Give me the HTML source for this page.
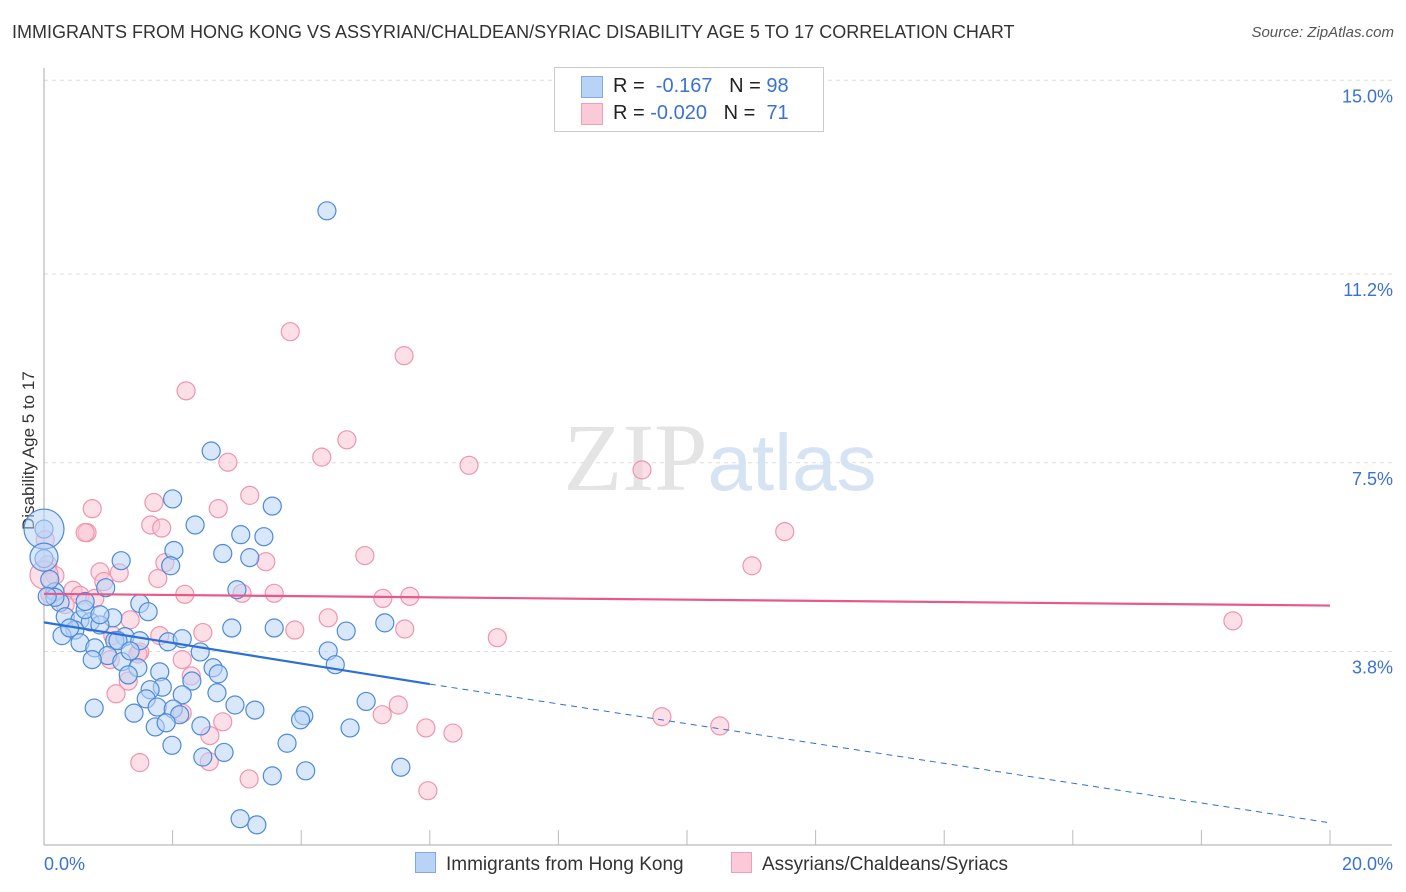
<!DOCTYPE html>
<html><head><meta charset="utf-8"><style>
body{margin:0;background:#fff;font-family:"Liberation Sans",sans-serif;}
#wrap{position:relative;width:1406px;height:892px;overflow:hidden;}
.t{position:absolute;white-space:nowrap;}
</style></head><body>
<div id="wrap">
<div class="t" style="left:12px;top:22px;font-size:18px;color:#333;">IMMIGRANTS FROM HONG KONG VS ASSYRIAN/CHALDEAN/SYRIAC DISABILITY AGE 5 TO 17 CORRELATION CHART</div>
<div class="t" style="right:12px;top:24px;font-size:15px;color:#555;font-style:italic;">Source: ZipAtlas.com</div>
<div class="t" style="left:-46px;top:445px;font-size:17px;color:#333;transform:rotate(-90deg);transform-origin:center;width:150px;text-align:center;">Disability Age 5 to 17</div>
<svg id="svg" width="1406" height="892" style="position:absolute;left:0;top:0"></svg>
<div style="position:absolute;left:554px;top:67px;width:268px;height:63px;border:1px solid #ccc;background:#fff;font-size:20px;">
 <div style="position:absolute;left:26px;top:8px;width:20px;height:20px;background:#b8d3f5;border:1px solid #7fa9e0;"></div>
 <div class="t" style="left:58px;top:7px;color:#222;">R = &nbsp;<span style="color:#3a72d4">-0.167</span>&nbsp;&nbsp; N = <span style="color:#3a72d4">98</span></div>
 <div style="position:absolute;left:26px;top:35px;width:20px;height:20px;background:#fcc9d8;border:1px solid #eea0b8;"></div>
 <div class="t" style="left:58px;top:34px;color:#222;">R = <span style="color:#3a72d4">-0.020</span>&nbsp;&nbsp; N = &nbsp;<span style="color:#3a72d4">71</span></div>
</div>
<div style="position:absolute;left:415px;top:852px;font-size:19px;color:#333;">
 <span style="position:absolute;left:0;top:0;white-space:nowrap;"><span style="display:inline-block;width:19px;height:19px;background:#b8d3f5;border:1px solid #7fa9e0;vertical-align:-3px;margin-right:10px"></span>Immigrants from Hong Kong</span>
 <span style="position:absolute;left:316px;top:0;white-space:nowrap;"><span style="display:inline-block;width:19px;height:19px;background:#fcc9d8;border:1px solid #eea0b8;vertical-align:-3px;margin-right:10px"></span>Assyrians/Chaldeans/Syriacs</span>
</div>
</div>
<script>
const yTicks=[3.8,7.5,11.2,15.0];
const yTickLabels=["3.8%","7.5%","11.2%","15.0%"];
const xTickLabels=["0.0%","20.0%"];
const blueX=[4.4,2.6,2.0,3.55,2.35,3.06,3.42,2.02,2.78,3.2,1.2,1.97,0.96,3.0,0.17,0.25,1.49,1.62,1.07,0.33,0.56,0.72,0.87,0.48,2.92,3.58,4.7,5.3,1.26,1.93,2.15,1.1,1.49,0.56,0.79,2.43,4.42,0.99,0.75,1.21,4.53,2.63,1.80,1.46,2.71,2.3,1.84,1.65,1.31,2.15,2.69,1.59,2.97,3.28,5.01,0.78,1.4,1.76,2.01,2.11,4.04,3.99,1.73,1.9,2.44,4.76,3.78,1.99,2.8,2.47,5.55,3.55,4.07,3.05,3.31,0.28,0.4,0.64,0.0,0.0,0.09,0.17,0.05,1.15,1.34,0.64,0.87];
const blueY=[12.44,7.73,6.79,6.65,6.28,6.09,6.05,5.78,5.72,5.64,5.58,5.48,5.05,5.01,4.97,4.76,4.74,4.58,4.46,4.48,4.42,4.38,4.32,4.22,4.26,4.26,4.20,4.36,4.09,3.99,4.05,4.01,4.01,3.97,3.87,3.79,3.81,3.72,3.64,3.60,3.54,3.48,3.40,3.48,3.36,3.22,3.10,3.05,3.34,2.95,2.99,2.87,2.75,2.65,2.82,2.69,2.59,2.71,2.67,2.56,2.54,2.46,2.32,2.40,2.34,2.30,2.0,1.96,1.82,1.73,1.53,1.36,1.46,0.52,0.40,4.11,4.26,4.62,6.2,5.62,5.21,4.86,4.88,4.01,3.81,4.78,4.52];
const pinkX=[3.83,5.6,2.21,4.71,9.3,4.32,2.86,6.61,3.2,1.71,0.75,2.71,1.66,1.83,0.67,0.64,11.52,4.99,3.45,1.88,11.01,0.87,1.17,1.77,0.93,0.45,0.17,2.19,3.08,3.58,5.27,5.69,0.09,0.33,0.56,0.79,1.34,4.42,3.9,5.61,7.05,2.47,1.80,1.07,18.49,1.49,1.03,1.46,2.15,1.31,2.29,1.12,5.51,5.26,2.15,9.61,2.78,10.51,5.94,6.36,2.58,1.49,2.57,3.19,5.97,0.02,0.06];
const pinkY=[10.07,9.6,8.91,7.95,7.36,7.61,7.51,7.45,6.86,6.72,6.60,6.60,6.28,6.22,6.13,6.13,6.15,5.68,5.56,5.54,5.48,5.36,5.34,5.23,5.17,5.0,5.29,4.92,4.94,4.94,4.84,4.88,4.92,4.72,4.90,4.84,4.42,4.46,4.22,4.24,4.07,4.17,4.11,4.11,4.40,3.79,3.64,3.75,3.64,3.22,3.32,2.97,2.75,2.56,2.59,2.52,2.42,2.34,2.30,2.20,2.15,1.62,1.64,1.30,1.07,5.99,5.50];
const blueBig=[[0.0,6.2,20],[0.0,5.65,14]];
const pinkBig=[[0.0,5.3,14]];
const blueLine=[0,4.37,6,3.16,20,0.44];
const pinkLine=[0,4.93,20,4.7];
const X0=44,X1=1330;
function sx(v){return X0+(X1-X0)*v/20;}
function sy(v){return 654-(v-3.75)*51.0;}
const svg=document.getElementById('svg');const NS='http://www.w3.org/2000/svg';
function mk(tag,attrs,name){const e=document.createElementNS(NS,tag);for(const k in attrs)e.setAttribute(k,attrs[k]);


svg.appendChild(e);return e;}
yTicks.forEach((v,i)=>{mk('line',{x1:X0,x2:1392,y1:sy(v),y2:sy(v),stroke:'#ddd','stroke-dasharray':'4,4'},'y-gridline');
const t=mk('text',{x:1393,y:sy(v)+22,'text-anchor':'end','font-size':'18','fill':'#3a72d4','font-family':'Liberation Sans'},'y-tick-label');t.textContent=yTickLabels[i];});
mk('line',{x1:X0,x2:X0,y1:68,y2:845,stroke:'#aaa'},'y-axis-line');
mk('line',{x1:X0,x2:1392,y1:845,y2:845,stroke:'#aaa'},'x-axis-line');
for(let i=1;i<=10;i++){mk('line',{x1:sx(i*2),x2:sx(i*2),y1:830,y2:845,stroke:'#bbb'},'x-tick');}
[[0,'start',X0],[1,'end',1393]].forEach(([i,a,x])=>{const t=mk('text',{x:x,y:870,'text-anchor':a,'font-size':'18','fill':'#3a72d4','font-family':'Liberation Sans'},'x-tick-label');t.textContent=xTickLabels[i];});
const wm=mk('text',{x:720,y:490,'text-anchor':'middle','font-size':'96','fill':'#e4e4e4','font-family':'Liberation Serif'},'watermark');wm.innerHTML='ZIP<tspan fill="#d5e3f3" font-family="Liberation Sans" font-size="80">atlas</tspan>';
function dot(x,y,r,c,s,name){mk('circle',{cx:sx(x),cy:sy(y),r:r,fill:c,'fill-opacity':0.55,stroke:s,'stroke-width':1.2},name);}
pinkX.forEach((x,i)=>dot(x,pinkY[i],9,'#fbc5d5','#ee95b1','pink-point'));
pinkBig.forEach(p=>dot(p[0],p[1],p[2],'#fbc5d5','#ee95b1','pink-point'));
blueX.forEach((x,i)=>dot(x,blueY[i],9,'#b8d3f5','#4e8ad9','blue-point'));
blueBig.forEach(p=>dot(p[0],p[1],p[2],'#b8d3f5','#4e8ad9','blue-point'));
mk('line',{x1:sx(blueLine[0]),y1:sy(blueLine[1]),x2:sx(blueLine[2]),y2:sy(blueLine[3]),stroke:'#2c6fd6','stroke-width':2.2},'blue-trend-line');
mk('line',{x1:sx(blueLine[2]),y1:sy(blueLine[3]),x2:sx(blueLine[4]),y2:sy(blueLine[5]),stroke:'#2c6fd6','stroke-width':1,'stroke-dasharray':'6,5'},'blue-trend-extension');
mk('line',{x1:sx(pinkLine[0]),y1:sy(pinkLine[1]),x2:sx(pinkLine[2]),y2:sy(pinkLine[3]),stroke:'#e8588a','stroke-width':2.2},'pink-trend-line');
</script>
</body></html>
